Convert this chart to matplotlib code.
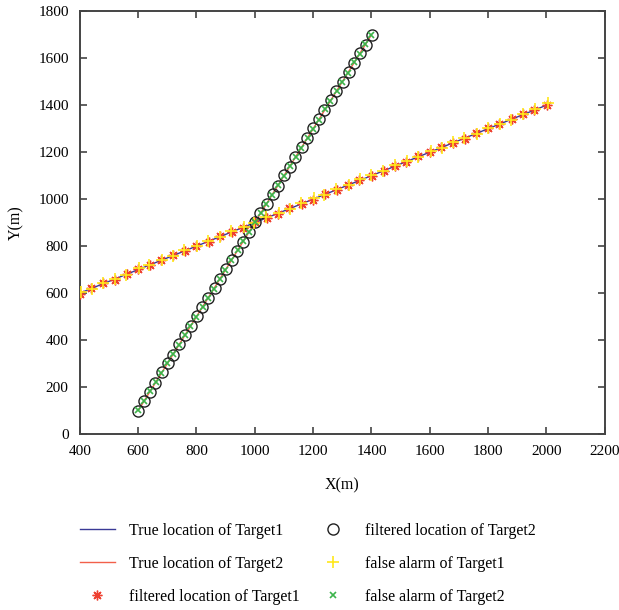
import numpy as np
import matplotlib
matplotlib.use('Agg')
import matplotlib.pyplot as plt

plt.rcParams['font.family'] = ['Liberation Serif', 'DejaVu Serif']

# Target1: true track and measurements
t1_x = [400, 440, 480, 520, 560, 600, 640, 680, 720, 760, 800, 840, 880, 920,
        960, 1000, 1040, 1080, 1120, 1160, 1200, 1240, 1280, 1320, 1360, 1400,
        1440, 1480, 1520, 1560, 1600, 1640, 1680, 1720, 1760, 1800, 1840, 1880,
        1920, 1960, 2000]
t1_y = [600, 620, 640, 660, 680, 700, 720, 740, 760, 780, 800, 820, 840, 860,
        880, 900, 920, 940, 960, 980, 1000, 1020, 1040, 1060, 1080, 1100, 1120,
        1140, 1160, 1180, 1200, 1220, 1240, 1260, 1280, 1300, 1320, 1340, 1360,
        1380, 1400]
t1_filt_x = [401, 438, 481, 519, 562, 599, 641, 678, 721, 761, 798, 842, 879, 921,
             958, 1001, 1042, 1079, 1118, 1161, 1199, 1241, 1282, 1319, 1358, 1401,
             1442, 1479, 1518, 1561, 1600, 1639, 1681, 1722, 1759, 1801, 1838, 1881,
             1921, 1958, 2001]
t1_filt_y = [598, 622, 641, 657, 683, 702, 718, 741, 763, 779, 802, 818, 843, 861,
             877, 902, 921, 938, 962, 981, 998, 1022, 1039, 1062, 1081, 1098, 1121,
             1142, 1158, 1182, 1199, 1221, 1241, 1258, 1282, 1301, 1319, 1342, 1361,
             1378, 1402]
t1_fa_x = [403, 441, 478, 522, 559, 603, 638, 682, 719, 758, 803, 839, 882, 918,
           963, 998, 1039, 1083, 1121, 1158, 1203, 1238, 1279, 1322, 1361, 1397,
           1439, 1482, 1521, 1558, 1603, 1641, 1678, 1719, 1762, 1798, 1842, 1878,
           1918, 1962, 2005]
t1_fa_y = [604, 619, 644, 662, 679, 705, 721, 743, 758, 784, 799, 823, 838, 864,
           882, 899, 924, 941, 958, 984, 1003, 1018, 1043, 1059, 1084, 1103, 1118,
           1144, 1162, 1178, 1203, 1219, 1244, 1262, 1279, 1304, 1322, 1338, 1364,
           1382, 1408]

# Target2: true track and measurements
t2_x = [600, 620, 640, 660, 680, 700, 720, 740, 760, 780, 800, 820, 840, 860,
        880, 900, 920, 940, 960, 980, 1000, 1020, 1040, 1060, 1080, 1100, 1120,
        1140, 1160, 1180, 1200, 1220, 1240, 1260, 1280, 1300, 1320, 1340, 1360,
        1380, 1400]
t2_y = [100, 140, 180, 220, 260, 300, 340, 380, 420, 460, 500, 540, 580, 620,
        660, 700, 740, 780, 820, 860, 900, 940, 980, 1020, 1060, 1100, 1140,
        1180, 1220, 1260, 1300, 1340, 1380, 1420, 1460, 1500, 1540, 1580, 1620,
        1660, 1700]
t2_filt_x = [601, 619, 642, 658, 681, 702, 719, 741, 759, 782, 801, 819, 841, 862,
             879, 901, 922, 939, 958, 981, 1002, 1019, 1041, 1061, 1078, 1101, 1121,
             1139, 1162, 1179, 1201, 1221, 1238, 1261, 1279, 1301, 1322, 1339, 1359,
             1381, 1401]
t2_filt_y = [99, 142, 181, 218, 262, 301, 338, 382, 421, 458, 502, 539, 581, 622,
             658, 701, 742, 779, 818, 861, 902, 939, 981, 1021, 1058, 1102, 1139,
             1181, 1222, 1259, 1301, 1341, 1378, 1422, 1459, 1501, 1542, 1579, 1621,
             1658, 1701]
t2_fa_x = [599, 621, 641, 661, 679, 699, 721, 739, 761, 779, 799, 821, 839, 859,
           881, 899, 919, 941, 961, 979, 999, 1021, 1039, 1059, 1081, 1099, 1119,
           1141, 1159, 1181, 1199, 1219, 1241, 1259, 1281, 1299, 1319, 1341, 1361,
           1379, 1399]
t2_fa_y = [102, 139, 182, 221, 259, 302, 341, 379, 422, 461, 499, 542, 579, 619,
           662, 699, 739, 782, 821, 859, 901, 942, 979, 1019, 1062, 1099, 1142,
           1179, 1219, 1262, 1299, 1339, 1382, 1419, 1462, 1499, 1539, 1582, 1619,
           1662, 1699]

fig = plt.figure(figsize=(6.19, 6.10), dpi=100)
ax = fig.add_axes([0.129, 0.2885, 0.848, 0.693])

ax.plot(t1_x, t1_y, color='#3a3a96', lw=1.0, label='True location of Target1', zorder=2)
ax.plot(t2_x, t2_y, color='#f2604a', lw=1.0, label='True location of Target2', zorder=2)
ax.plot(t1_filt_x, t1_filt_y, ls='none', marker=(8, 2, 0), ms=7, mew=1.0,
        color='#ee4030', label='filtered location of Target1', zorder=3)
ax.plot(t2_filt_x, t2_filt_y, ls='none', marker='o', ms=8, mew=1.0,
        mfc='none', mec='#202020', label='filtered location of Target2', zorder=3)
ax.plot(t1_fa_x, t1_fa_y, ls='none', marker='+', ms=8, mew=1.2,
        color='#ffe81a', label='false alarm of Target1', zorder=4)
ax.plot(t2_fa_x, t2_fa_y, ls='none', marker='x', ms=4, mew=1.2,
        color='#3cb44b', label='false alarm of Target2', zorder=4)

ax.set_xlim(400, 2200)
ax.set_ylim(0, 1800)
ax.set_xticks(np.arange(400, 2201, 200))
ax.set_yticks(np.arange(0, 1801, 200))
ax.tick_params(direction='in', top=True, right=True, length=5, width=1.2,
               color='#444444', labelsize=11, pad=8)
for s in ax.spines.values():
    s.set_color('#444444')
    s.set_linewidth(1.4)

ax.set_xlabel('X(m)', fontsize=11.5, labelpad=14)
ax.set_ylabel('Y(m)', fontsize=11.5, labelpad=10)

handles, labels = ax.get_legend_handles_labels()
fig.legend(handles, labels,
           loc='upper left', bbox_to_anchor=(0.129, 0.143), ncol=2, frameon=False,
           fontsize=11.5, handlelength=2.2, handletextpad=0.87, columnspacing=1.0,
           labelspacing=1.07, borderpad=0, borderaxespad=0)

fig.savefig('out.png', dpi=100)
